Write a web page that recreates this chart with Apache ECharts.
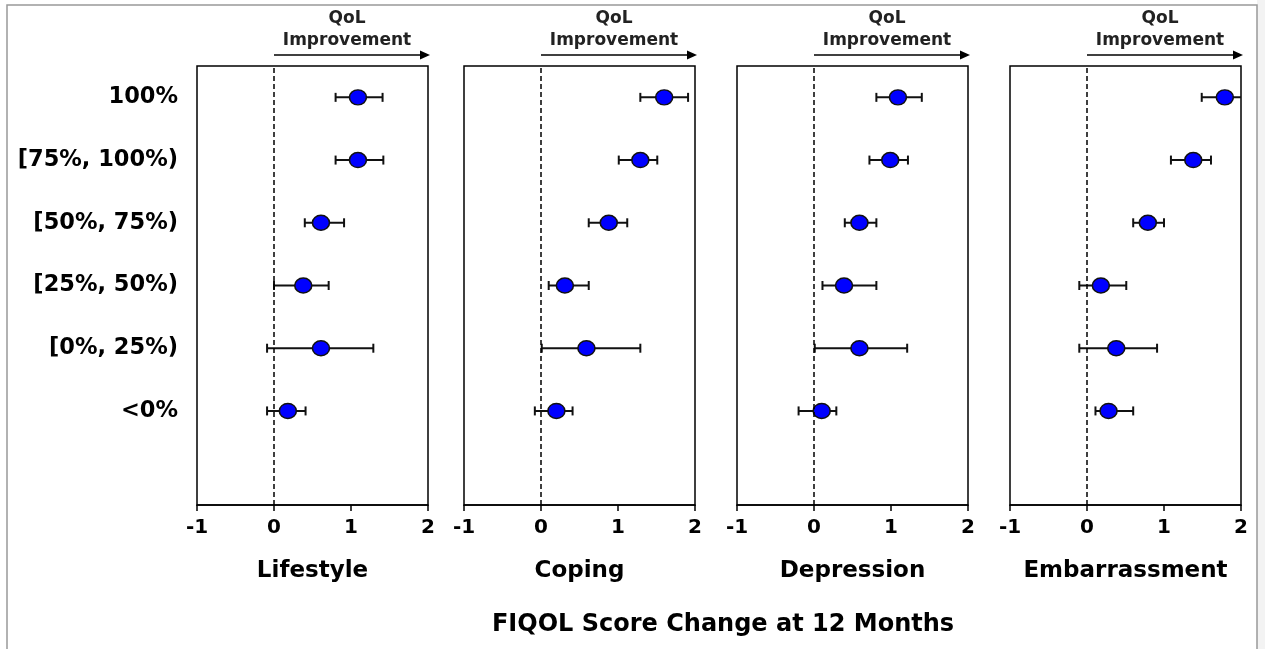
<!DOCTYPE html>
<html lang="en">
<head>
    <meta http-equiv="content-type" content="text/html; charset=utf-8" />
    <script type="text/javascript" src="https://cdn.jsdelivr.net/npm/echarts@6.0.0/dist/echarts.min.js"></script>
    <title>FIQOL Score Change at 12 Months</title>
    <style>
        html, body { margin: 0; padding: 0; background: #fff; }
        #chart { width: 1265px; height: 649px; }
    </style>
</head>
<body>
<div id="chart"></div>
<script type="text/javascript">
    // rows, bottom to top
    var categories = ['<0%', '[0%, 25%)', '[25%, 50%)', '[50%, 75%)', '[75%, 100%)', '100%'];
    var panelNames = ['Lifestyle', 'Coping', 'Depression', 'Embarrassment'];
    var xTicks = [-1, 0, 1, 2];

    var lifestyleMean = [0.18, 0.61, 0.38, 0.61, 1.09, 1.09];
    var lifestyleLow = [-0.09, -0.09, 0.00, 0.40, 0.80, 0.80];
    var lifestyleHigh = [0.41, 1.29, 0.71, 0.91, 1.42, 1.41];

    var copingMean = [0.20, 0.59, 0.31, 0.88, 1.29, 1.60];
    var copingLow = [-0.08, 0.01, 0.10, 0.62, 1.01, 1.29];
    var copingHigh = [0.41, 1.29, 0.62, 1.12, 1.51, 1.91];

    var depressionMean = [0.10, 0.59, 0.39, 0.59, 0.99, 1.09];
    var depressionLow = [-0.20, 0.01, 0.11, 0.40, 0.72, 0.81];
    var depressionHigh = [0.29, 1.21, 0.81, 0.81, 1.22, 1.40];

    var embarrassmentMean = [0.28, 0.38, 0.18, 0.79, 1.38, 1.79];
    var embarrassmentLow = [0.11, -0.10, -0.10, 0.60, 1.09, 1.49];
    var embarrassmentHigh = [0.60, 0.91, 0.51, 1.00, 1.61, 2.09];

    var means = [lifestyleMean, copingMean, depressionMean, embarrassmentMean];
    var lows = [lifestyleLow, copingLow, depressionLow, embarrassmentLow];
    var highs = [lifestyleHigh, copingHigh, depressionHigh, embarrassmentHigh];

    var font = "'DejaVu Sans', 'Liberation Sans', Arial, sans-serif";
    // empty band at the bottom of every panel
    var yData = [''].concat(categories);
    var gridLefts = [197, 464, 737, 1010];
    var gridTop = 66, gridHeight = 439, gridWidth = 231;

    var grids = [], xAxes = [], yAxes = [], series = [];
    for (var p = 0; p < 4; p++) {
        grids.push({
            left: gridLefts[p], top: gridTop, width: gridWidth, height: gridHeight,
            show: true, borderColor: '#000', borderWidth: 1.5, backgroundColor: 'transparent'
        });
        xAxes.push({
            gridIndex: p, type: 'value',
            min: xTicks[0], max: xTicks[xTicks.length - 1], interval: 1,
            axisLine: {show: true, lineStyle: {color: '#000', width: 1.5}},
            axisTick: {show: true, length: 6, lineStyle: {color: '#000', width: 1.5}},
            axisLabel: {fontSize: 20, fontWeight: 'bold', color: '#000', fontFamily: font, margin: 13},
            splitLine: {show: false},
            name: panelNames[p], nameLocation: 'middle', nameGap: 55,
            nameTextStyle: {fontSize: 23, fontWeight: 'bold', color: '#000', fontFamily: font}
        });
        yAxes.push({
            gridIndex: p, type: 'category', data: yData,
            axisLine: {show: false}, axisTick: {show: false}, splitLine: {show: false},
            axisLabel: {show: p === 0, fontSize: 22.5, fontWeight: 'bold', color: '#000', fontFamily: font, margin: 19}
        });

        var barData = [], pointData = [];
        for (var i = 0; i < categories.length; i++) {
            barData.push([lows[p][i], highs[p][i], i + 1]);
            pointData.push([means[p][i], i + 1]);
        }
        // error bars
        series.push({
            type: 'custom', xAxisIndex: p, yAxisIndex: p, clip: true, z: 2,
            encode: {x: [0, 1], y: 2},
            data: barData,
            renderItem: function (params, api) {
                var a = api.coord([api.value(0), api.value(2)]);
                var b = api.coord([api.value(1), api.value(2)]);
                var h = 4.5;
                var st = {stroke: '#111', lineWidth: 2};
                return {
                    type: 'group',
                    children: [
                        {type: 'line', shape: {x1: a[0], y1: a[1], x2: b[0], y2: b[1]}, style: st},
                        {type: 'line', shape: {x1: a[0], y1: a[1] - h, x2: a[0], y2: a[1] + h}, style: st},
                        {type: 'line', shape: {x1: b[0], y1: b[1] - h, x2: b[0], y2: b[1] + h}, style: st}
                    ]
                };
            }
        });
        // means
        series.push({
            type: 'scatter', xAxisIndex: p, yAxisIndex: p, z: 3,
            symbol: 'circle', symbolSize: [17, 15],
            itemStyle: {color: '#0000ff', borderColor: '#111', borderWidth: 1.5, opacity: 1},
            data: pointData,
            markLine: {
                silent: true, symbol: ['none', 'none'], animation: false,
                label: {show: false},
                lineStyle: {color: '#000', width: 1.5, type: [5, 3]},
                data: [{xAxis: 0}]
            }
        });
    }

    var chart = echarts.init(document.getElementById('chart'), null, {renderer: 'canvas'});
    chart.setOption({
        animation: false,
        backgroundColor: '#fff',
        title: {
            text: 'FIQOL Score Change at 12 Months',
            left: 718, top: 608, textAlign: 'center',
            textStyle: {fontSize: 24, fontWeight: 'bold', color: '#000', fontFamily: font}
        },
        grid: grids,
        xAxis: xAxes,
        yAxis: yAxes,
        series: series
    });

    // "QoL Improvement" arrows above each panel, placed from the axes
    var graphics = [
        {type: 'rect', shape: {x: 1257, y: 0, width: 8, height: 649}, style: {fill: '#f3f3f3'}, silent: true},
        {type: 'rect', shape: {x: 7, y: 5, width: 1250, height: 700}, style: {fill: 'none', stroke: '#999', lineWidth: 1.5}, silent: true}
    ];
    for (var k = 0; k < 4; k++) {
        var x0 = chart.convertToPixel({xAxisIndex: k}, 0);
        var x2 = chart.convertToPixel({xAxisIndex: k}, 2);
        var ay = gridTop - 11;
        var cx = (x0 + x2) / 2 - 4;
        graphics.push({type: 'line', shape: {x1: x0, y1: ay, x2: x2 - 6, y2: ay}, style: {stroke: '#000', lineWidth: 1.5}, silent: true});
        graphics.push({type: 'polygon', shape: {points: [[x2 - 8, ay - 4.5], [x2 + 2, ay], [x2 - 8, ay + 4.5]]}, style: {fill: '#000'}, silent: true});
        graphics.push({type: 'text', x: cx, y: 19, style: {text: 'QoL', fill: '#222', font: 'bold 17px ' + font, textAlign: 'center', textVerticalAlign: 'middle'}, silent: true});
        graphics.push({type: 'text', x: cx, y: 41, style: {text: 'Improvement', fill: '#222', font: 'bold 17px ' + font, textAlign: 'center', textVerticalAlign: 'middle'}, silent: true});
    }
    chart.setOption({graphic: graphics});
</script>
</body>
</html>
